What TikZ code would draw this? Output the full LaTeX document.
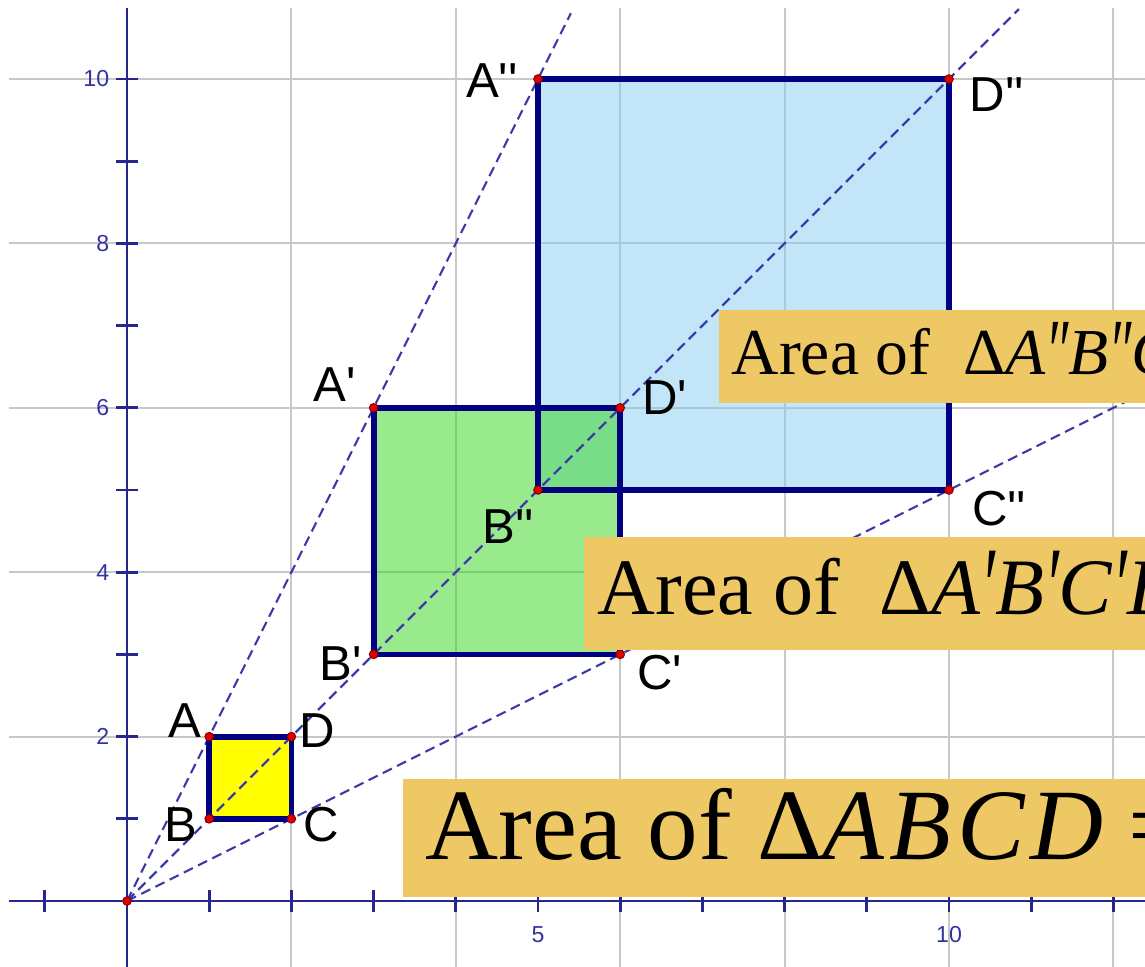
\documentclass[tikz,border=0pt]{standalone}
\usepackage{fontspec}
\usepackage{graphicx}
\setmainfont{Liberation Serif}
\newfontfamily\ptfont[Ligatures=TeXOff]{Liberation Sans}
\usetikzlibrary{calc}
\definecolor{gridGray}{HTML}{C8C8C8}
\definecolor{axisBlue}{HTML}{26268F}
\definecolor{edgeNavy}{HTML}{000080}
\definecolor{rayBlue}{HTML}{3C3CAA}
\definecolor{tickBlue}{HTML}{3333A0}
\definecolor{sqYellow}{HTML}{FFFF00}
\definecolor{sqGreen}{HTML}{31D519}
\definecolor{sqBlue}{HTML}{85CDF1}
\definecolor{ptRed}{HTML}{E00000}
\definecolor{boxGold}{HTML}{EFC866}
\newcommand{\bigprime}[1]{\raisebox{-0.12em}{\scalebox{0.85}[1.4]{#1}}}

\begin{document}
\begin{tikzpicture}[
      gridln/.style={draw=gridGray, line width=0.7pt},
      axis/.style={draw=axisBlue, line width=1pt},
      ray/.style={draw=rayBlue, line width=0.75pt, dash pattern=on 3.5pt off 2pt},
      sq/.style={draw=edgeNavy, line width=2pt, line join=miter},
      pt/.style={fill=ptRed, draw=red!50!black, line width=0.3pt},
      ptlbl/.style={font=\ptfont\fontsize{17}{19}\selectfont, inner sep=0pt},
      ticklbl/.style={font=\ptfont\fontsize{8}{9}\selectfont, text=tickBlue,
                      inner sep=0pt},
      areabox/.style={fill=boxGold, anchor=base west, inner ysep=0pt,
                      text width=11cm, align=flush left}]
    \useasboundingbox (-1.545,-0.791) rectangle (12.384,10.961);
    \clip (-1.545,-0.791) rectangle (12.384,10.961);

    \coordinate (O) at (0,0);
    \coordinate (A) at (1,2);
    \coordinate (B) at (1,1);
    \coordinate (C) at (2,1);
    \coordinate (D) at (2,2);
    \coordinate (A1) at (3,6);
    \coordinate (B1) at (3,3);
    \coordinate (C1) at (6,3);
    \coordinate (D1) at (6,6);
    \coordinate (A2) at (5,10);
    \coordinate (B2) at (5,5);
    \coordinate (C2) at (10,5);
    \coordinate (D2) at (10,10);
    \coordinate (r1) at (5.4,10.8);
    \coordinate (r2) at (10.85,10.85);
    \coordinate (r3) at (12.6,6.3);

    \foreach \x in {2,4,...,12}
      \draw[gridln] (\x,-0.8) -- (\x,10.86);
    \foreach \y in {2,4,...,10}
      \draw[gridln] (-1.44,\y) -- (12.4,\y);

    \draw[axis] (-1.44,0) -- (12.4,0);
    \draw[axis] (0,-0.8) -- (0,10.86);
    \foreach \x in {-1,1,2,3,4,5,6,7,8,9,10,11,12}
      \draw[axis] (\x,-0.13) -- (\x,0.13);
    \foreach \y in {1,...,10}
      \draw[axis] (-0.13,\y) -- (0.13,\y);
    \foreach \y in {2,4,...,10}
      \node[ticklbl, anchor=east] (ty\y) at (-0.21,\y) {\y};
    \node[ticklbl] (tx5) at (5,-0.41) {5};
    \node[ticklbl] (tx10) at (10,-0.41) {10};

    \fill[sqYellow] (A) rectangle (C);
    \fill[sqBlue, fill opacity=0.5] (A2) rectangle (C2);
    \fill[sqGreen, fill opacity=0.5] (A1) rectangle (C1);

    \draw[ray] (O) -- (r1);
    \draw[ray] (O) -- (r2);
    \draw[ray] (O) -- (r3);

    \draw[sq] (A) -- (B) -- (C) -- (D) -- cycle;
    \draw[sq] (A1) -- (B1) -- (C1) -- (D1) -- cycle;
    \draw[sq] (A2) -- (B2) -- (C2) -- (D2) -- cycle;

    \foreach \p in {O,A,B,C,D,A1,B1,C1,D1,A2,B2,C2,D2}
      \filldraw[pt] (\p) circle (1.5pt);

    \node[ptlbl] (lA) at ($(A)+(-0.29,0.20)$) {A};
    \node[ptlbl] (lB) at ($(B)+(-0.34,-0.07)$) {B};
    \node[ptlbl] (lC) at ($(C)+(0.36,-0.07)$) {C};
    \node[ptlbl] (lD) at ($(D)+(0.32,0.07)$) {D};
    \node[ptlbl] (lA1) at ($(A1)+(-0.47,0.28)$) {A'};
    \node[ptlbl] (lB1) at ($(B1)+(-0.40,-0.11)$) {B'};
    \node[ptlbl] (lC1) at ($(C1)+(0.48,-0.22)$) {C'};
    \node[ptlbl] (lD1) at ($(D1)+(0.54,0.12)$) {D'};
    \node[ptlbl] (lA2) at ($(A2)+(-0.56,-0.02)$) {A''};
    \node[ptlbl] (lB2) at ($(B2)+(-0.36,-0.44)$) {B''};
    \node[ptlbl] (lC2) at ($(C2)+(0.61,-0.22)$) {C''};
    \node[ptlbl] (lD2) at ($(D2)+(0.58,-0.19)$) {D''};

    \node[areabox, inner xsep=0.15cm, text height=0.79cm, text depth=0.345cm,
          font=\fontsize{22.7}{27}\selectfont] (box1) at (7.20,6.40)
          {Area of\ \ Δ\textit{A\bigprime{″}B\bigprime{″}C}};
    \node[areabox, inner xsep=0.17cm, text height=0.95cm, text depth=0.43cm,
          font=\fontsize{27.7}{32}\selectfont] (box2) at (5.55,3.48)
          {Area of\ \ Δ\textit{A\bigprime{′}B\bigprime{′}C\bigprime{′}D}};
    \node[areabox, inner xsep=0.28cm, text height=0.97cm, text depth=0.46cm,
          font=\fontsize{35}{40}\selectfont] (box3) at (3.35,0.51)
          {Area of Δ\textit{A\kern2pt B\kern2pt C\kern2pt D} =};
  \end{tikzpicture}
\end{document}
